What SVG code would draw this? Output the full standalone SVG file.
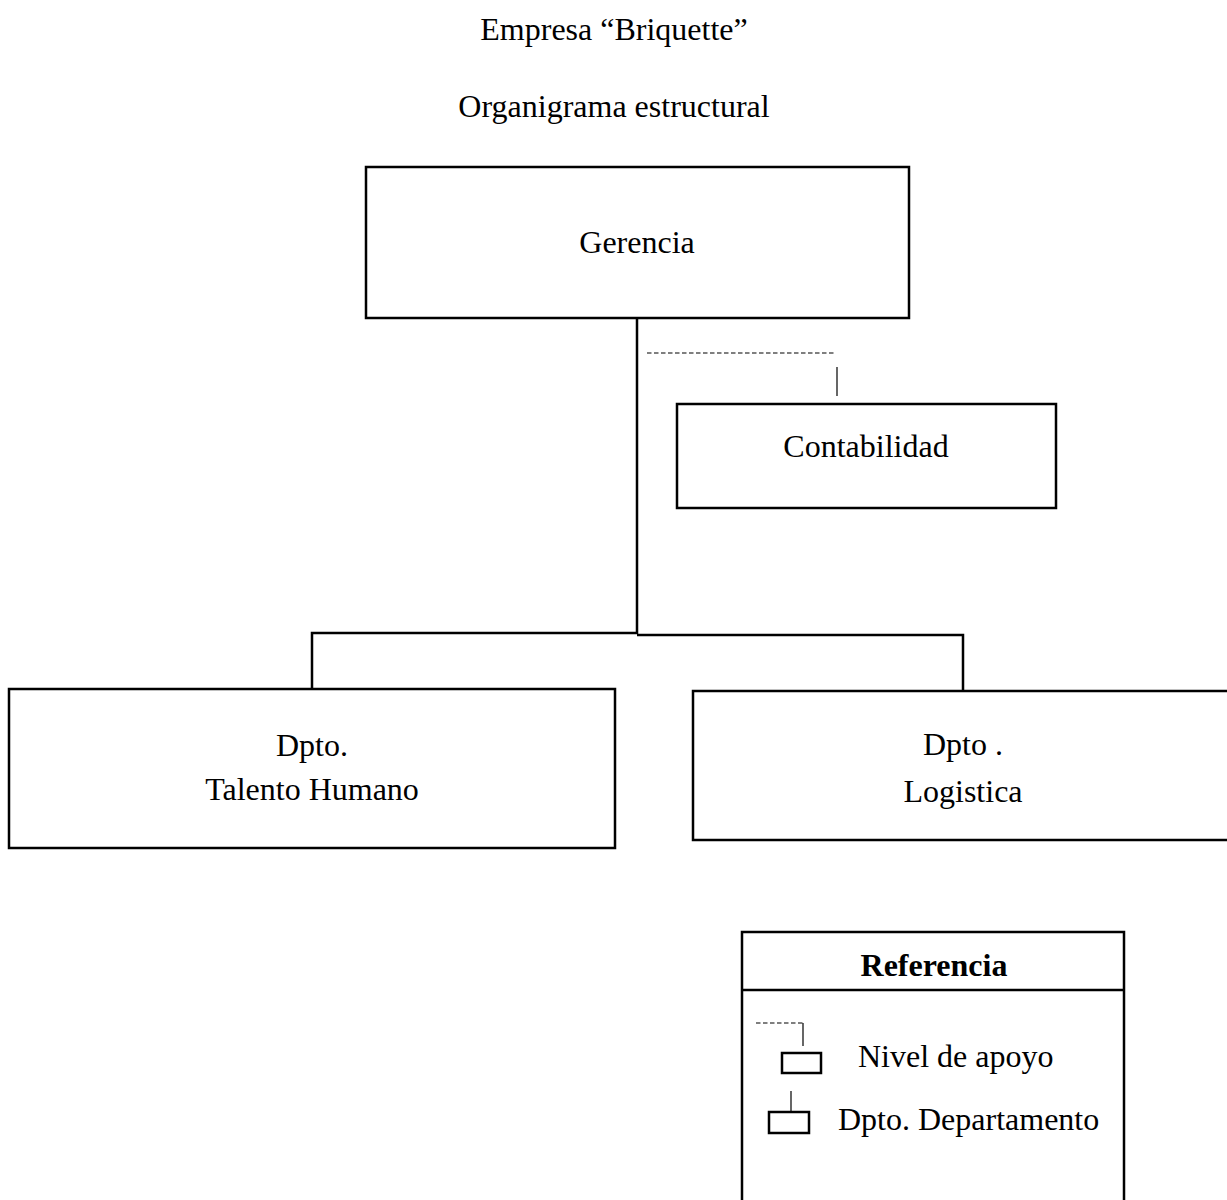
<svg xmlns="http://www.w3.org/2000/svg" width="1227" height="1200" viewBox="0 0 1227 1200">
<style>
text{font-family:"Liberation Serif","Times New Roman",serif;font-size:32px;fill:#000;text-anchor:middle}
text.l{text-anchor:start}
.box{fill:#fff;stroke:#000;stroke-width:2.5}
.conn{fill:none;stroke:#000;stroke-width:2.5}
.thin{fill:none;stroke:#000;stroke-width:1.2}
.dash{fill:none;stroke:#000;stroke-width:1.2;stroke-dasharray:4.5 2.5}
</style>
<rect width="1227" height="1200" fill="#fff"/>
<g id="title">
<text x="614" y="40">Empresa “Briquette”</text>
<text x="614" y="117">Organigrama estructural</text>
</g>
<g id="connectors">
<line class="conn" x1="637" y1="318" x2="637" y2="634"/>
<polyline class="conn" points="637,633 312,633 312,689"/>
<polyline class="conn" points="637,635 963,635 963,691"/>
<line class="dash" x1="647" y1="353" x2="835" y2="353"/>
<line class="thin" x1="837" y1="367" x2="837" y2="396"/>
</g>
<g id="gerencia">
<rect class="box" x="366" y="167" width="543" height="151"/>
<text x="637" y="253">Gerencia</text>
</g>
<g id="contabilidad">
<rect class="box" x="677" y="404" width="379" height="104"/>
<text x="866" y="457">Contabilidad</text>
</g>
<g id="talento">
<rect class="box" x="9" y="689" width="606" height="159"/>
<text x="312" y="756">Dpto.</text>
<text x="312" y="800">Talento Humano</text>
</g>
<g id="logistica">
<rect class="box" x="693" y="691" width="536" height="149"/>
<text x="963" y="755">Dpto .</text>
<text x="963" y="802">Logistica</text>
</g>
<g id="legend">
<rect class="box" x="742" y="932" width="382" height="280"/>
<line class="conn" x1="742" y1="990" x2="1124" y2="990"/>
<text x="934" y="976" font-weight="bold">Referencia</text>
<line class="dash" x1="756" y1="1023" x2="805" y2="1023"/>
<line class="thin" x1="803" y1="1023" x2="803" y2="1046"/>
<rect class="box" x="782" y="1053" width="39" height="20" stroke-width="2"/>
<text class="l" x="858" y="1067">Nivel de apoyo</text>
<line class="thin" x1="791" y1="1091" x2="791" y2="1112"/>
<rect class="box" x="769" y="1112" width="40" height="21" stroke-width="2"/>
<text class="l" x="838" y="1130">Dpto. Departamento</text>
</g>
</svg>
